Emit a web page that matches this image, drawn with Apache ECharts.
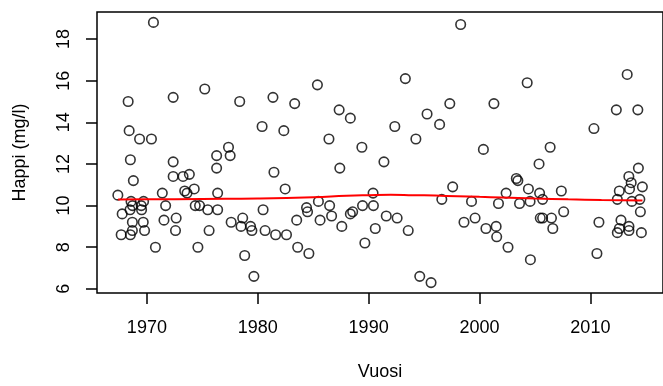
<!DOCTYPE html>
<html>
<head>
<meta charset="utf-8">
<script src="https://cdn.jsdelivr.net/npm/echarts@6/dist/echarts.min.js"></script>
<style>
	html, body { margin: 0; padding: 0; background: #fff; }
	#chart { width: 663px; height: 386px; }
</style>
</head>
<body>
<div id="chart"></div>
<script>
// havainnot: vuosi ja happi (mg/l)
var years = [
	1967.38, 1967.77, 1967.68, 1968.31, 1968.40, 1968.51, 1968.78, 1968.57, 1968.48, 1968.69,
	1968.69, 1968.51, 1968.70, 1969.34, 1970.41, 1969.49, 1969.52, 1969.70, 1969.67, 1969.79,
	1970.59, 1970.77, 1971.39, 1971.69, 1971.54, 1972.58, 1972.64, 1972.37, 1972.37, 1972.37,
	1973.26, 1973.83, 1973.41, 1973.62, 1974.27, 1974.36, 1974.75, 1974.60, 1975.22, 1975.49,
	1975.61, 1976.29, 1976.29, 1976.38, 1976.38, 1977.36, 1977.51, 1977.60, 1978.37, 1978.64,
	1978.49, 1978.82, 1979.35, 1979.47, 1979.65, 1980.39, 1980.48, 1980.66, 1981.37, 1981.46,
	1981.61, 1982.35, 1982.47, 1982.59, 1983.33, 1983.51, 1983.60, 1984.40, 1984.49, 1984.61,
	1985.38, 1985.47, 1985.62, 1986.42, 1986.48, 1986.66, 1987.34, 1987.40, 1987.58, 1988.35,
	1988.35, 1988.56, 1989.39, 1989.45, 1989.66, 1990.40, 1990.43, 1990.60, 1991.38, 1991.59,
	1992.36, 1992.57, 1993.31, 1993.57, 1994.26, 1994.61, 1995.27, 1995.63, 1996.40, 1996.60,
	1997.32, 1997.58, 1998.30, 1998.60, 1999.28, 1999.60, 2000.35, 2000.58, 2001.30, 2001.50,
	2001.55, 2001.71, 2002.40, 2002.57, 2003.32, 2003.46, 2003.61, 2004.30, 2004.41, 2004.56,
	2004.59, 2005.37, 2005.42, 2005.69, 2005.48, 2005.69, 2006.37, 2006.49, 2006.61, 2007.38,
	2007.59, 2010.32, 2010.77, 2010.59, 2012.34, 2013.32, 2014.28, 2014.33, 2013.47, 2013.68,
	2012.61, 2013.53, 2014.69, 2012.43, 2013.74, 2014.46, 2014.51, 2012.76, 2012.61, 2012.43,
	2013.48, 2013.48, 2014.60
];
var oxygen = [
	10.5, 9.6, 8.6, 15.0, 13.6, 12.2, 11.2, 10.2, 9.8, 9.2,
	8.8, 8.6, 10.0, 13.2, 13.2, 10.0, 9.8, 10.2, 9.2, 8.8,
	18.8, 8.0, 10.6, 10.0, 9.3, 8.8, 9.4, 15.2, 12.1, 11.4,
	11.4, 11.5, 10.7, 10.6, 10.8, 10.0, 10.0, 8.0, 15.6, 9.8,
	8.8, 12.4, 11.8, 10.6, 9.8, 12.8, 12.4, 9.2, 15.0, 9.4,
	9.0, 7.6, 9.0, 8.8, 6.6, 13.8, 9.8, 8.8, 15.2, 11.6,
	8.6, 13.6, 10.8, 8.6, 14.9, 9.3, 8.0, 9.9, 9.7, 7.7,
	15.8, 10.2, 9.3, 13.2, 10.0, 9.5, 14.6, 11.8, 9.0, 14.2,
	9.6, 9.7, 12.8, 10.0, 8.2, 10.6, 10.0, 8.9, 12.1, 9.5,
	13.8, 9.4, 16.1, 8.8, 13.2, 6.6, 14.4, 6.3, 13.9, 10.3,
	14.9, 10.9, 18.7, 9.2, 10.2, 9.4, 12.7, 8.9, 14.9, 9.0,
	8.5, 10.1, 10.6, 8.0, 11.3, 11.2, 10.1, 15.9, 10.8, 10.2,
	7.4, 12.0, 10.6, 10.3, 9.4, 9.4, 12.8, 9.4, 8.9, 10.7,
	9.7, 13.7, 9.2, 7.7, 14.6, 16.3, 14.6, 11.8, 11.4, 11.1,
	10.7, 10.8, 10.9, 10.3, 10.2, 10.3, 9.7, 9.3, 8.9, 8.7,
	9.0, 8.8, 8.7
];

// tasoitettu käyrä (punainen)
var smoothYears = [1967.4, 1970, 1975, 1980, 1985, 1988, 1990, 1992, 1994, 1996, 1998, 2000, 2002, 2005, 2008, 2011, 2014.7];
var smoothOxygen = [10.29, 10.30, 10.32, 10.34, 10.40, 10.47, 10.50, 10.52, 10.50, 10.48, 10.45, 10.42, 10.39, 10.34, 10.30, 10.27, 10.24];

var xTicks = [1970, 1980, 1990, 2000, 2010];
var yTicks = [6, 8, 10, 12, 14, 16, 18];

var pairs = [];
for (var i = 0; i < years.length; i++) {
	pairs.push([years[i], oxygen[i]]);
}
var linePairs = [];
for (var j = 0; j < smoothYears.length; j++) {
	linePairs.push([smoothYears[j], smoothOxygen[j]]);
}

var font = '"Liberation Sans", Arial, sans-serif';

// ei tuhaterottimia vuosiin
var plain = function(v) {
	return String(v);
};

var chart = echarts.init(document.getElementById('chart'), null, { renderer: 'canvas' });
chart.setOption({
	animation: false,
	backgroundColor: '#ffffff',
	grid: {
		show: true,
		left: 97,
		top: 12,
		width: 573,
		height: 283,
		borderColor: '#000',
		borderWidth: 1.5,
		backgroundColor: 'transparent'
	},
	xAxis: {
		type: 'value',
		min: 1965.5,
		max: 2016.55,
		name: 'Vuosi',
		nameLocation: 'middle',
		nameGap: 70,
		nameTextStyle: { fontFamily: font, fontSize: 18, color: '#000' },
		axisLine: { show: false },
		axisTick: { show: true, inside: false, length: 11, customValues: xTicks, lineStyle: { color: '#000', width: 1.5 } },
		axisLabel: { customValues: xTicks, formatter: plain, margin: 26, fontFamily: font, fontSize: 18, color: '#000' },
		splitLine: { show: false }
	},
	yAxis: {
		type: 'value',
		min: 5.8,
		max: 19.3,
		name: 'Happi (mg/l)',
		nameLocation: 'middle',
		nameRotate: 90,
		nameGap: 68,
		nameTextStyle: { fontFamily: font, fontSize: 18, color: '#000' },
		axisLine: { show: false },
		axisTick: { show: true, inside: false, length: 11, customValues: yTicks, lineStyle: { color: '#000', width: 1.5 } },
		axisLabel: { customValues: yTicks, formatter: plain, rotate: 90, margin: 24, fontFamily: font, fontSize: 18, color: '#000' },
		splitLine: { show: false }
	},
	series: [
		{
			type: 'scatter',
			data: pairs,
			symbol: 'circle',
			symbolSize: 9.5,
			itemStyle: { color: 'transparent', borderColor: '#000', borderWidth: 1.6 },
			silent: true,
			z: 2
		},
		{
			type: 'line',
			data: linePairs,
			smooth: true,
			showSymbol: false,
			lineStyle: { color: '#ff0000', width: 2 },
			silent: true,
			z: 3
		}
	]
});
</script>
</body>
</html>
